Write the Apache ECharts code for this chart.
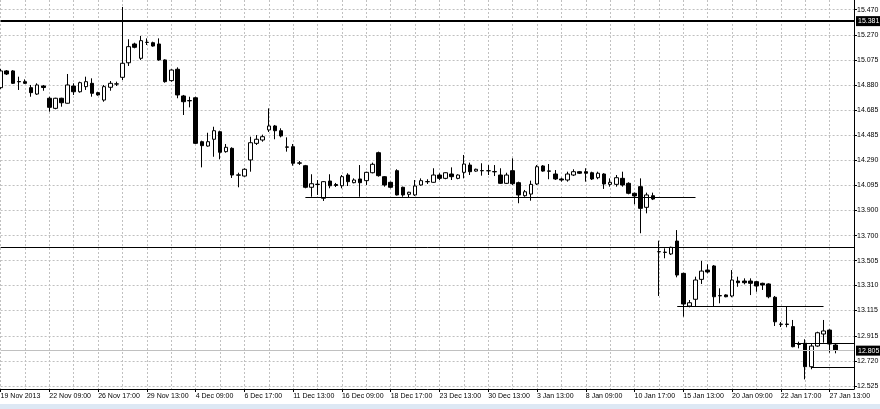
<!DOCTYPE html>
<html><head><meta charset="utf-8">
<script src="https://cdn.jsdelivr.net/npm/echarts@6/dist/echarts.min.js"></script>
<style>html,body{margin:0;padding:0;background:#fff}#c{width:880px;height:409px}</style>
</head><body><div id="c"></div>
<script>
const tickLabels = ["19 Nov 2013","22 Nov 09:00","26 Nov 17:00","29 Nov 13:00","4 Dec 09:00","6 Dec 17:00","11 Dec 13:00","16 Dec 09:00","18 Dec 17:00","23 Dec 13:00","30 Dec 13:00","3 Jan 13:00","8 Jan 09:00","10 Jan 17:00","15 Jan 13:00","20 Jan 09:00","22 Jan 17:00","27 Jan 13:00"];
const priceTicks = [12.525,12.720,12.915,13.115,13.310,13.505,13.700,13.900,14.095,14.290,14.485,14.685,14.880,15.075,15.270,15.470];
const opens = [14.859,14.990,14.990,14.907,14.906,14.859,14.809,14.872,14.776,14.697,14.776,14.737,14.872,14.827,14.867,14.893,14.820,14.762,14.862,14.887,
14.940,15.054,15.201,15.089,15.213,15.211,15.201,15.076,14.914,15.003,14.794,14.758,14.780,14.436,14.402,14.455,14.514,14.358,14.384,14.176,
14.167,14.293,14.423,14.449,14.528,14.559,14.522,14.395,14.397,14.270,14.248,14.079,14.103,13.993,14.128,14.101,14.091,14.175,14.115,14.144,
14.131,14.193,14.350,14.162,14.118,14.209,14.079,14.024,14.019,14.097,14.122,14.118,14.175,14.149,14.183,14.149,14.196,14.253,14.206,14.210,
14.209,14.202,14.175,14.110,14.209,14.115,14.013,14.026,14.105,14.246,14.207,14.183,14.144,14.136,14.175,14.201,14.201,14.193,14.154,14.183,
14.102,14.102,14.149,14.110,14.032,14.084,13.922,14.013,13.575,13.571,13.557,13.658,13.405,13.149,13.202,13.358,13.431,13.463,13.231,13.236,
13.228,13.345,13.345,13.345,13.340,13.327,13.322,13.218,13.008,13.008,12.988,12.850,12.858,12.674,12.836,12.930,12.961,12.844];
const closes = [14.990,14.966,14.893,14.905,14.893,14.820,14.880,14.860,14.705,14.776,14.741,14.880,14.827,14.898,14.906,14.815,14.802,14.867,14.893,14.889,
15.050,15.180,15.175,15.227,15.214,15.185,15.076,14.906,14.997,14.802,14.749,14.756,14.423,14.405,14.436,14.522,14.353,14.392,14.175,14.174,
14.220,14.428,14.455,14.475,14.559,14.522,14.481,14.393,14.267,14.268,14.079,14.107,14.101,14.123,14.091,14.093,14.162,14.123,14.136,14.115,
14.196,14.259,14.170,14.097,14.079,14.019,14.019,14.040,14.089,14.131,14.124,14.175,14.149,14.193,14.162,14.175,14.261,14.201,14.220,14.208,
14.208,14.200,14.110,14.175,14.107,14.019,14.044,14.102,14.240,14.206,14.205,14.144,14.136,14.183,14.201,14.189,14.189,14.144,14.189,14.105,
14.118,14.154,14.097,14.032,14.011,13.914,14.019,13.987,13.574,13.569,13.609,13.392,13.165,13.175,13.353,13.423,13.416,13.222,13.229,13.222,
13.353,13.332,13.332,13.327,13.306,13.314,13.222,13.026,13.006,13.005,12.831,12.849,12.674,12.836,12.940,12.954,12.852,12.805];
const lows = [14.849,14.958,14.888,14.841,14.888,14.788,14.802,14.835,14.671,14.690,14.710,14.735,14.802,14.820,14.841,14.788,14.796,14.749,14.835,14.872,
14.919,15.029,15.167,15.076,15.193,15.180,15.070,14.898,14.906,14.776,14.645,14.705,14.418,14.235,14.397,14.318,14.298,14.350,14.152,14.079,
14.162,14.201,14.410,14.436,14.512,14.455,14.470,14.358,14.248,14.254,14.071,14.005,14.019,13.972,14.071,14.081,14.071,14.089,14.110,14.005,
14.097,14.188,14.162,14.084,14.071,14.015,14.005,14.001,14.011,14.091,14.105,14.115,14.136,14.142,14.136,14.142,14.149,14.175,14.201,14.170,
14.175,14.167,14.105,14.105,14.097,13.954,14.005,13.974,14.097,14.201,14.142,14.136,14.123,14.123,14.167,14.183,14.123,14.136,14.142,14.066,
14.084,14.084,14.084,14.024,13.946,13.719,13.875,13.979,13.228,13.523,13.549,13.374,13.066,13.139,13.149,13.322,13.405,13.149,13.171,13.218,
13.218,13.300,13.319,13.235,13.261,13.275,13.210,12.993,12.985,12.983,12.826,12.818,12.575,12.654,12.831,12.862,12.784,12.779];
const highs = [15.005,14.997,14.997,14.945,14.924,14.880,14.893,14.880,14.788,14.780,14.780,14.966,14.893,14.906,14.945,14.932,14.827,14.880,14.911,14.906,
15.491,15.238,15.211,15.264,15.245,15.219,15.245,15.081,15.003,15.018,14.802,14.788,14.788,14.444,14.506,14.553,14.522,14.418,14.392,14.193,
14.228,14.475,14.488,14.491,14.697,14.567,14.541,14.470,14.418,14.285,14.254,14.181,14.136,14.128,14.181,14.113,14.175,14.189,14.149,14.253,
14.201,14.272,14.358,14.167,14.123,14.220,14.084,14.044,14.136,14.149,14.142,14.228,14.189,14.196,14.235,14.181,14.332,14.272,14.225,14.267,
14.253,14.253,14.228,14.193,14.306,14.123,14.058,14.131,14.253,14.253,14.261,14.214,14.154,14.201,14.220,14.206,14.228,14.201,14.201,14.189,
14.149,14.175,14.201,14.118,14.037,14.149,14.037,14.037,13.661,13.601,13.614,13.744,13.410,13.196,13.379,13.502,13.476,13.470,13.288,13.241,
13.431,13.379,13.366,13.366,13.345,13.332,13.327,13.228,13.024,13.149,13.040,12.870,12.889,12.852,12.948,13.040,12.967,12.852];
const slotCount = 141;
const labelEvery = 8;
const gridEvery = 4;
const levelLines = { resistance: 15.381, upper: 13.611, bid: 12.805 };
const segments = [
  { from: 50, to: 114, price: 14.003 },
  { from: 111, to: 135, price: 13.147 },
  { from: 130, to: 140, price: 12.855 },
  { from: 133, to: 140, price: 12.671 }
];

const categories = [];
for (let i = 0; i < slotCount; i++) categories.push(i);
const candles = opens.map((o, i) => [o, closes[i], lows[i], highs[i]]);

const font = 'Liberation Sans';
const fs = 7;
const chart = echarts.init(document.getElementById('c'), null, { renderer: 'canvas' });
const boxLabel = (txt) => ({
  show: true, position: 'end', formatter: txt, color: '#fff', backgroundColor: '#000',
  padding: [2, 2, 1, 2], fontSize: fs, fontFamily: font, distance: 2
});
chart.setOption({
  animation: false,
  backgroundColor: '#fff',
  grid: { left: 0.6, right: 26, top: 0, bottom: 20, containLabel: false, outerBoundsMode: 'none' },
  xAxis: {
    type: 'category', data: categories, boundaryGap: false,
    axisLine: { show: true, lineStyle: { color: '#000', width: 1 } },
    axisTick: { show: true, interval: labelEvery - 1, length: 3, lineStyle: { color: '#000' } },
    axisLabel: {
      interval: labelEvery - 1, align: 'left', margin: 4, color: '#000', fontSize: fs, fontFamily: font,
      hideOverlap: false,
      formatter: (v, idx) => tickLabels[idx / labelEvery] || ''
    },
    splitLine: { show: true, interval: gridEvery - 1, lineStyle: { color: '#c0c0c0', type: [2, 2], width: 1 } }
  },
  yAxis: {
    type: 'value', position: 'right', min: 12.4996, max: 15.5454, scale: true,
    axisLine: { show: true, lineStyle: { color: '#000', width: 1 } },
    axisTick: { show: true, length: 3, customValues: priceTicks, lineStyle: { color: '#000' } },
    axisLabel: { customValues: priceTicks, margin: 3, color: '#000', fontSize: fs, fontFamily: font, formatter: v => v.toFixed(3) },
    splitLine: { show: true, lineStyle: { color: '#c0c0c0', type: [2, 2], width: 1 } }
  },
  graphic: [{ type: 'rect', left: 0, top: 404, shape: { width: 880, height: 5 }, style: { fill: '#dde8f4' }, silent: true }],
  series: [{
    type: 'candlestick', data: candles, barWidth: 4, clip: true,
    itemStyle: { color: '#fff', color0: '#000', borderColor: '#000', borderColor0: '#000', borderColorDoji: '#000', borderWidth: 1 },
    markLine: {
      silent: true, symbol: 'none', animation: false,
      data: [
        { yAxis: levelLines.bid, lineStyle: { color: '#c0c0c0', width: 1, type: 'solid' }, label: boxLabel(levelLines.bid.toFixed(3)) },
        { yAxis: levelLines.resistance, lineStyle: { color: '#000', width: 2, type: 'solid' }, label: boxLabel(levelLines.resistance.toFixed(3)) },
        { yAxis: levelLines.upper, lineStyle: { color: '#000', width: 1, type: 'solid' }, label: { show: false } },
        ...segments.map(s => [
          { coord: [s.from, s.price], lineStyle: { color: '#000', width: 1, type: 'solid' }, label: { show: false } },
          { coord: [s.to, s.price] }
        ])
      ]
    }
  }]
});
</script></body></html>
